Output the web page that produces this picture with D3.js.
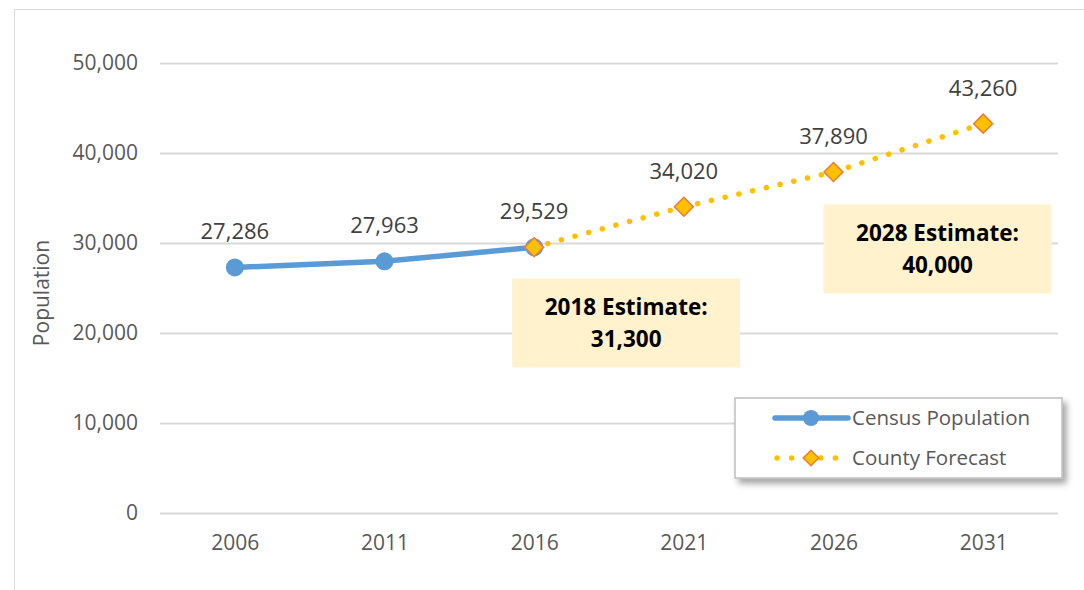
<!DOCTYPE html>
<html>
<head>
<meta charset="utf-8">
<script src="https://cdn.jsdelivr.net/npm/d3@7"></script>
<style>
  body { margin: 0; background: #fff; }
  svg text { font-family: "Open Sans", "Noto Sans", sans-serif; }
</style>
</head>
<body>
<svg width="1084" height="590"></svg>
<script>
var years = ["2006", "2011", "2016", "2021", "2026", "2031"];
var census = [27286, 27963, 29529];
var censusYears = ["2006", "2011", "2016"];
var forecast = [29529, 34020, 37890, 43260];
var forecastYears = ["2016", "2021", "2026", "2031"];
var yTicks = [0, 10000, 20000, 30000, 40000, 50000];
var notes = [
  { year: "2016", dx: 92, y: 21170, lines: ["2018 Estimate:", "31,300"] },
  { year: "2026", dx: 104, y: 29390, lines: ["2028 Estimate:", "40,000"] }
];

var svg = d3.select("svg");
var fmt = d3.format(",");

var x = d3.scalePoint().domain(years).range([160, 1058]).padding(0.5);
var y = d3.scaleLinear().domain([0, 50000]).range([513, 63]);

// chart border
svg.append("rect")
  .attr("x", 14.5).attr("y", 9.5)
  .attr("width", 1100).attr("height", 600)
  .attr("fill", "none").attr("stroke", "#d9d9d9");

// gridlines + y labels
var yAxis = d3.axisLeft(y).tickValues(yTicks).tickSize(-(1058 - 160)).tickFormat(fmt).tickPadding(22);
var gy = svg.append("g").attr("transform", "translate(160,0)").call(yAxis);
gy.select(".domain").remove();
gy.selectAll("line").attr("stroke", "#d9d9d9").attr("stroke-width", 2);
gy.selectAll("text").attr("fill", "#595959").style("font-size", "21px");

var xAxis = d3.axisBottom(x).tickSize(0).tickPadding(22);
var gx = svg.append("g").attr("transform", "translate(0,513)").call(xAxis);
gx.select(".domain").remove();
gx.selectAll("text").attr("fill", "#595959").style("font-size", "21px");

svg.append("text")
  .attr("transform", "translate(49,293) rotate(-90)")
  .attr("text-anchor", "middle")
  .attr("fill", "#595959")
  .style("font-size", "21px")
  .text("Population");

var line = d3.line().x(function(d) { return x(d[0]); }).y(function(d) { return y(d[1]); });

var censusData = d3.zip(censusYears, census);
var forecastData = d3.zip(forecastYears, forecast);

svg.append("path").datum(censusData)
  .attr("d", line)
  .attr("fill", "none").attr("stroke", "#5b9bd5")
  .attr("stroke-width", 5.5).attr("stroke-linecap", "round");

svg.selectAll(".cdot").data(censusData).enter().append("circle")
  .attr("cx", function(d) { return x(d[0]); })
  .attr("cy", function(d) { return y(d[1]); })
  .attr("r", 9)
  .attr("fill", "#5b9bd5");

svg.append("path").datum(forecastData)
  .attr("d", line)
  .attr("fill", "none").attr("stroke", "#ffc000")
  .attr("stroke-width", 5.5).attr("stroke-linecap", "round")
  .attr("stroke-dasharray", "0.1 14");

svg.selectAll(".fdot").data(forecastData).enter().append("path")
  .attr("transform", function(d) { return "translate(" + x(d[0]) + "," + y(d[1]) + ") rotate(45)"; })
  .attr("d", d3.symbol().type(d3.symbolSquare).size(180))
  .attr("fill", "#ffc000").attr("stroke", "#ed7d31").attr("stroke-width", 1.5);

// data labels
var labels = censusData.concat(forecastData.slice(1));
svg.selectAll(".lbl").data(labels).enter().append("text")
  .attr("x", function(d) { return x(d[0]); })
  .attr("y", function(d) { return y(d[1]) - 28; })
  .attr("text-anchor", "middle")
  .attr("fill", "#404040")
  .style("font-size", "22px")
  .text(function(d) { return fmt(d[1]); });

// estimate boxes
var note = svg.selectAll(".note").data(notes).enter().append("g")
  .attr("transform", function(d) { return "translate(" + (x(d.year) + d.dx) + "," + y(d.y) + ")"; });
note.append("rect")
  .attr("x", -114).attr("y", -44).attr("width", 228).attr("height", 89)
  .attr("fill", "#fff2cc");
note.append("text")
  .attr("text-anchor", "middle").attr("y", -7)
  .style("font-size", "22.5px").style("font-weight", "bold").attr("fill", "#000")
  .text(function(d) { return d.lines[0]; });
note.append("text")
  .attr("text-anchor", "middle").attr("y", 25)
  .style("font-size", "22.5px").style("font-weight", "bold").attr("fill", "#000")
  .text(function(d) { return d.lines[1]; });

// legend
var defs = svg.append("defs");
var f = defs.append("filter").attr("id", "shadow").attr("x", "-10%").attr("y", "-10%").attr("width", "130%").attr("height", "140%");
f.append("feDropShadow").attr("dx", 4).attr("dy", 5).attr("stdDeviation", 3).attr("flood-color", "#000").attr("flood-opacity", 0.35);

var lg = svg.append("g").attr("transform", "translate(735,398)");
lg.append("rect").attr("width", 327).attr("height", 80)
  .attr("fill", "#fff").attr("stroke", "#bfbfbf").attr("stroke-width", 1.5)
  .attr("filter", "url(#shadow)");

lg.append("line").attr("x1", 40).attr("x2", 113).attr("y1", 20).attr("y2", 20)
  .attr("stroke", "#5b9bd5").attr("stroke-width", 5.5).attr("stroke-linecap", "round");
lg.append("circle").attr("cx", 76).attr("cy", 20).attr("r", 8).attr("fill", "#5b9bd5");
lg.append("text").attr("x", 117).attr("y", 27).attr("fill", "#595959").style("font-size", "20.5px").text("Census Population");

lg.append("line").attr("x1", 42).attr("x2", 113).attr("y1", 60).attr("y2", 60)
  .attr("stroke", "#ffc000").attr("stroke-width", 5.5).attr("stroke-linecap", "round")
  .attr("stroke-dasharray", "0.1 14.5");
lg.append("path").attr("transform", "translate(76,60) rotate(45)")
  .attr("d", d3.symbol().type(d3.symbolSquare).size(120))
  .attr("fill", "#ffc000").attr("stroke", "#ed7d31").attr("stroke-width", 1.5);
lg.append("text").attr("x", 117).attr("y", 67).attr("fill", "#595959").style("font-size", "20.5px").text("County Forecast");
</script>
</body>
</html>
